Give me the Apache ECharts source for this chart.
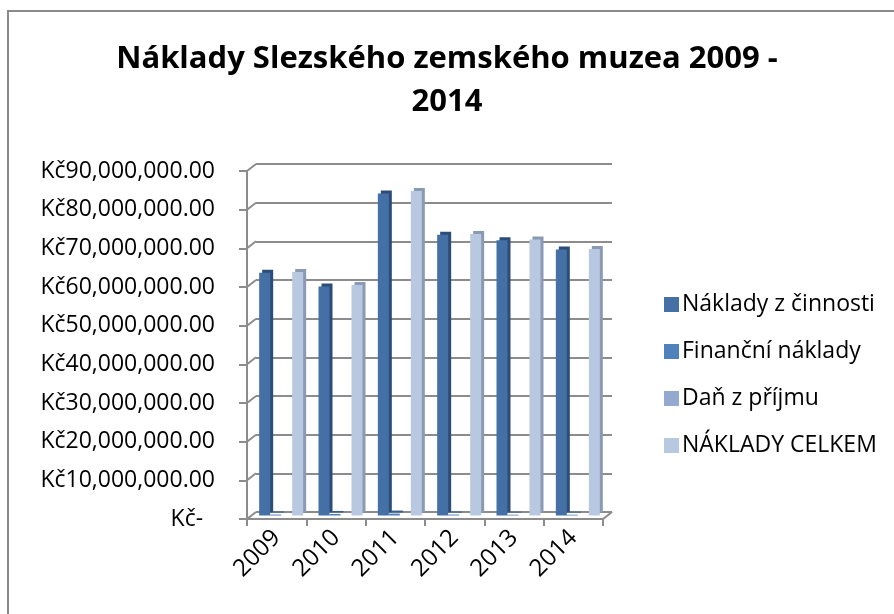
<!DOCTYPE html>
<html><head><meta charset="utf-8">
<script src="https://cdn.jsdelivr.net/npm/echarts@6/dist/echarts.min.js"></script>
<style>html,body{margin:0;padding:0;background:#fff}#c{width:894px;height:614px}</style>
</head><body><div id="c"></div>
<script>
const categories = ['2009', '2010', '2011', '2012', '2013', '2014'];
const seriesNames = ['Náklady z činnosti', 'Finanční náklady', 'Daň z příjmu', 'NÁKLADY CELKEM'];
const nakladyZCinnosti = [62800000, 59200000, 83300000, 72600000, 71200000, 68800000];
const financniNaklady = [250000, 400000, 500000, 250000, 200000, 200000];
const danZPrijmu = [0, 0, 0, 0, 0, 0];
const nakladyCelkem = [63000000, 59600000, 83900000, 72800000, 71400000, 68900000];
const yTickValues = [0, 10000000, 20000000, 30000000, 40000000, 50000000, 60000000, 70000000, 80000000, 90000000];
const yTickLabels = ['Kč-  ', 'Kč10,000,000.00', 'Kč20,000,000.00', 'Kč30,000,000.00', 'Kč40,000,000.00',
  'Kč50,000,000.00', 'Kč60,000,000.00', 'Kč70,000,000.00', 'Kč80,000,000.00', 'Kč90,000,000.00'];

const colors = ['#4470a6', '#4f81bd', '#93a9cf', '#b9c8e1'];
const sideColors = ['#2c4d78', '#36608f', '#6f86ad', '#8a9ab3'];
const FONT = '"Open Sans", sans-serif';
const GRID_C = '#8c8c8c';
const DX = 9, DY = -7;

const chart = echarts.init(document.getElementById('c'), null, {renderer: 'canvas'});
const seriesData = [nakladyZCinnosti, financniNaklady, danZPrijmu, nakladyCelkem];

const yBase = {type: 'value', min: 0, max: 90000000, interval: 10000000};
const option = {
  animation: false,
  title: {
    text: 'Náklady Slezského zemského muzea 2009 -\n2014',
    left: 'center', top: 33,
    textStyle: {fontFamily: FONT, fontWeight: 'bold', fontSize: 31, lineHeight: 43, color: '#000'}
  },
  graphic: [{type: 'rect', shape: {x: 8, y: 11, width: 1000, height: 1000}, style: {fill: 'none', stroke: '#8a8a8a', lineWidth: 2}, silent: true}],
  legend: {
    orient: 'vertical', left: 659, top: 288, itemGap: 24, itemWidth: 15, itemHeight: 15,
    icon: 'rect', data: seriesNames,
    textStyle: {fontFamily: FONT, fontSize: 23, color: '#000', lineHeight: 23, padding: [0, 0, 0, -2]}
  },
  grid: [
    {left: 247, right: 291, top: 171, bottom: 95},   // front
    {left: 256, right: 282, top: 164, bottom: 102},  // back wall
    {left: 251.5, right: 286.5, top: 167.5, bottom: 98.5} // bars (middle depth)
  ],
  xAxis: [
    {gridIndex: 0, type: 'category', data: categories,
      axisLine: {show: true, lineStyle: {color: GRID_C, width: 2}},
      axisTick: {show: true, length: 7, lineStyle: {color: GRID_C, width: 2}},
      axisLabel: {rotate: 45, margin: 15, fontFamily: FONT, fontSize: 24, color: '#000'}},
    {gridIndex: 1, type: 'category', data: categories, show: false},
    {gridIndex: 2, type: 'category', data: categories, show: false}
  ],
  yAxis: [
    Object.assign({gridIndex: 0}, yBase, {
      axisLine: {show: true, lineStyle: {color: GRID_C, width: 2}},
      axisTick: {show: true, length: 8, lineStyle: {color: GRID_C, width: 2}},
      splitLine: {show: false},
      axisLabel: {margin: 32, fontFamily: FONT, fontSize: 23, color: '#000',
        formatter: v => yTickLabels[yTickValues.indexOf(v)]}}),
    Object.assign({gridIndex: 1}, yBase, {
      axisLine: {show: false}, axisTick: {show: false}, axisLabel: {show: false},
      splitLine: {show: true, lineStyle: {color: GRID_C, width: 2}}}),
    Object.assign({gridIndex: 2}, yBase, {show: false, splitLine: {show: false}})
  ],
  series: [
    {
      type: 'custom', xAxisIndex: 0, yAxisIndex: 0, silent: true, z: 1,
      data: yTickValues.map(v => [0, v]),
      renderItem: function (params, api) {
        const p = api.coord([0, api.value(1)]);
        const half = api.size([1, 0])[0] / 2;
        const x0 = p[0] - half;
        const children = [{type: 'line', shape: {x1: x0, y1: p[1], x2: x0 + DX, y2: p[1] + DY},
          style: {stroke: GRID_C, lineWidth: 2}}];
        if (api.value(1) === 0) {
          const pr = api.coord([categories.length - 1, 0]);
          const xr = pr[0] + half;
          children.push({type: 'line', shape: {x1: xr, y1: p[1], x2: xr + DX, y2: p[1] + DY},
            style: {stroke: GRID_C, lineWidth: 2}});
        }
        return {type: 'group', children: children};
      }
    }
  ].concat(seriesNames.map((name, i) => ({
    name: name, type: 'bar', xAxisIndex: 2, yAxisIndex: 2, z: 3,
    data: seriesData[i], barWidth: 11, barGap: '0%',
    itemStyle: {color: colors[i], shadowColor: sideColors[i], shadowOffsetX: 3, shadowOffsetY: -3, shadowBlur: 0}
  })))
};
chart.setOption(option);
</script></body></html>
